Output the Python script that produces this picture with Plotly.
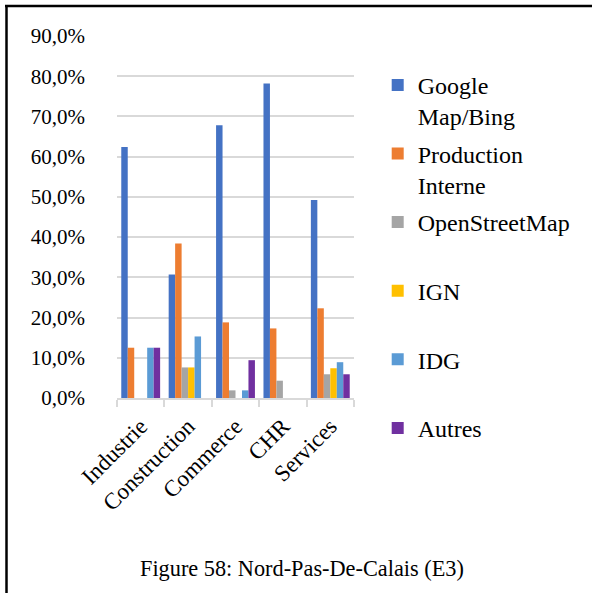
import plotly.graph_objects as go

# ==========================================================================
# Data
# ==========================================================================
categories = ["Industrie", "Construction", "Commerce", "CHR", "Services"]

google_bing = [62.4, 30.7, 67.8, 78.2, 49.2]
production_interne = [12.5, 38.4, 18.8, 17.3, 22.3]
openstreetmap = [0.0, 7.6, 1.9, 4.3, 5.9]
ign = [0.0, 7.6, 0.0, 0.0, 7.4]
idg = [12.5, 15.3, 1.9, 0.0, 8.9]
autres = [12.5, 0.0, 9.4, 0.0, 5.9]

series_names = ["Google<br>Map/Bing", "Production<br>Interne", "OpenStreetMap", "IGN", "IDG", "Autres"]
series_values = [google_bing, production_interne, openstreetmap, ign, idg, autres]
series_colors = ["#4472C4", "#ED7D31", "#A5A5A5", "#FFC000", "#5B9BD5", "#7030A0"]

y_ticks = [0, 10, 20, 30, 40, 50, 60, 70, 80, 90]
y_tick_labels = ["0,0%", "10,0%", "20,0%", "30,0%", "40,0%", "50,0%", "60,0%", "70,0%", "80,0%", "90,0%"]

FONT = "Liberation Serif, Times New Roman, serif"

# ==========================================================================
# Figure
# ==========================================================================
fig = go.Figure()
legend_ids = ["legend", "legend2", "legend3", "legend4", "legend5", "legend6"]
for name, vals, color, lg in zip(series_names, series_values, series_colors, legend_ids):
    fig.add_trace(go.Bar(
        x=categories,
        y=vals,
        name=name,
        marker=dict(color=color, line=dict(width=0)),
        legend=lg,
    ))

# one legend per entry so the entries are evenly spaced like the original
legend_layout = {}
top_y = 0.926
step = 68.6 / 362
for i, lg in enumerate(legend_ids):
    legend_layout[lg] = dict(
        x=1.1, y=top_y - i * step,
        xanchor="left", yanchor="top",
        font=dict(family=FONT, size=24, color="#000000"),
        bgcolor="rgba(0,0,0,0)",
        valign="top",
        itemwidth=30,
    )

fig.update_layout(
    width=592,
    height=593,
    margin=dict(l=117, r=238, t=36, b=195, autoexpand=False),
    paper_bgcolor="white",
    plot_bgcolor="white",
    barmode="group",
    bargap=0.18,
    bargroupgap=0,
    showlegend=True,
    **legend_layout,
)

fig.update_yaxes(
    range=[0, 90],
    tickvals=y_ticks,
    ticktext=y_tick_labels,
    showgrid=True,
    gridcolor="#D9D9D9",
    gridwidth=1.5,
    zeroline=False,
    showline=False,
    ticks="",
    ticklabelstandoff=31,
    tickfont=dict(family=FONT, size=21, color="#000000"),
)

fig.update_xaxes(
    showline=True,
    linecolor="#D9D9D9",
    linewidth=1.5,
    ticks="outside",
    tickson="boundaries",
    ticklen=7,
    tickcolor="#D9D9D9",
    tickwidth=1.5,
    tickangle=-45,
    ticklabelstandoff=4,
    tickfont=dict(family=FONT, size=23, color="#000000"),
)

# caption under the chart
fig.add_annotation(
    text="Figure 58: Nord-Pas-De-Calais (E3)",
    xref="paper", yref="paper",
    x=(302 - 117) / 237, y=(398 - 568) / 362,
    xanchor="center", yanchor="middle",
    showarrow=False,
    font=dict(family=FONT, size=22.3, color="#000000"),
)

# frame lines (left and top)
fig.add_shape(type="line", xref="paper", yref="paper",
              x0=(6.5 - 117) / 237, x1=(6.5 - 117) / 237,
              y0=(398 - 5) / 362, y1=(398 - 600) / 362,
              line=dict(color="black", width=2.5))
fig.add_shape(type="line", xref="paper", yref="paper",
              x0=(5 - 117) / 237, x1=(600 - 117) / 237,
              y0=(398 - 6) / 362, y1=(398 - 6) / 362,
              line=dict(color="black", width=2.5))

# drop the default page margin so the figure sits at the top-left corner
fig.write_html("out.html", config={"displayModeBar": False},
               post_script="document.body.style.margin='0px';")
